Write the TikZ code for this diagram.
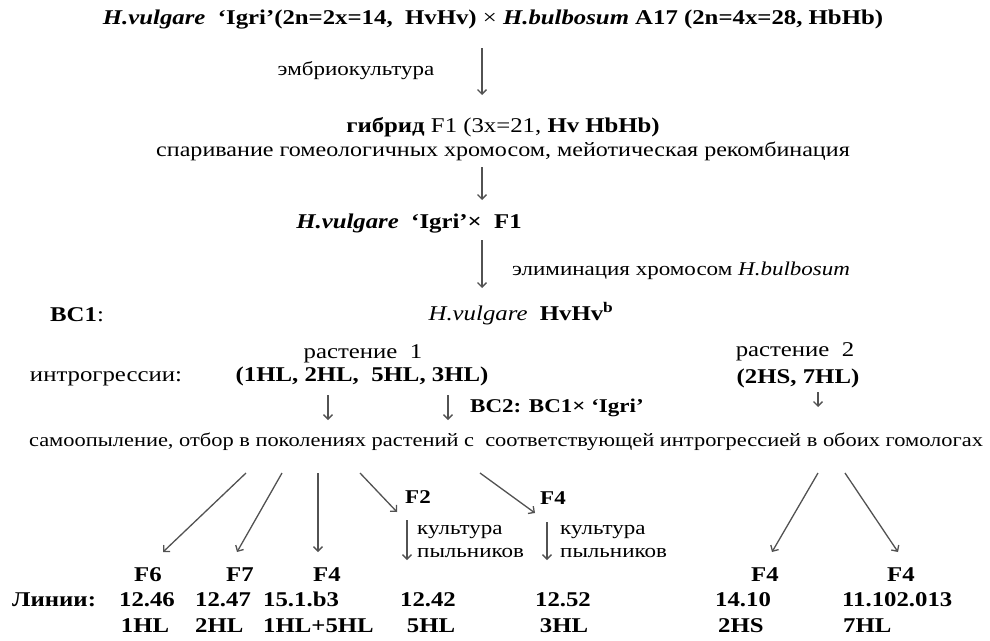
\documentclass[tikz,border=0pt]{standalone}
\usepackage{fontspec}
\setmainfont[FakeStretch=1.18]{Liberation Serif}
\usetikzlibrary{arrows.meta}
\begin{document}
\begin{tikzpicture}[x=1pt,y=-1pt,
  txt/.style={inner sep=0pt,font=\fontsize{21}{24}\selectfont},
  sml/.style={inner sep=0pt,font=\fontsize{19.5}{22}\selectfont},
  arr/.style={draw=black!68,line width=1.3pt,-{Straight Barb[length=4.5pt,width=9pt]}},
  every node/.append style={anchor=base}]
\useasboundingbox (0,0) rectangle (990,640);
% rows
\node[txt] (top) at (493,24) {\textbf{\textit{H.vulgare}}\ \ \textbf{‘Igri’(2n=2x=14,\ \ HvHv)} × \textbf{\textit{H.bulbosum}} \textbf{A17 (2n=4x=28, HbHb)}};
\node[sml] (embr) at (356,75) {эмбриокультура};
\node[txt] (f1) at (503,132) {\textbf{гибрид} F1 (3x=21, \textbf{Hv HbHb)}};
\node[txt,font=\fontsize{20.4}{24}\selectfont] (spar) at (503,156) {спаривание гомеологичных хромосом, мейотическая рекомбинация};
\node[txt] (cross) at (409,228) {\textbf{\textit{H.vulgare}}\ \ \textbf{‘Igri’× \ F1}};
\node[sml] (elim) at (512,275) [anchor=base west] {элиминация хромосом \textit{H.bulbosum}};
\node[txt] (bc1) at (50,321) [anchor=base west] {\textbf{BC1}:};
\node[txt] (hvb) at (521,320) {\textit{H.vulgare}\ \ \textbf{HvHv\textsuperscript{b}}};
\node[txt] (r1) at (363,358) {растение\ \ 1};
\node[txt] (r2) at (795,356) {растение\ \ 2};
\node[txt] (intr) at (106,381) {интрогрессии:};
\node[txt] (intrl) at (362,381) {\textbf{(1HL, 2HL,\ \ 5HL, 3HL)}};
\node[txt] (intrr) at (798,383) {\textbf{(2HS, 7HL)}};
\node[sml] (bc2) at (470,412) [anchor=base west] {\textbf{BC2: BC1× ‘Igri’}};
\node[txt,font=\fontsize{19}{22}\selectfont] (self) at (506,446) {самоопыление, отбор в поколениях растений с\ \ соответствующей интрогрессией в обоих гомологах};
\node[sml] (f2s) at (418,503) {\textbf{F2}};
\node[sml] (f4s) at (553,504) {\textbf{F4}};
\node[sml] (k1a) at (417,534) [anchor=base west] {культура};
\node[sml] (k1b) at (417,557) [anchor=base west] {пыльников};
\node[sml] (k2a) at (560,534) [anchor=base west] {культура};
\node[sml] (k2b) at (560,557) [anchor=base west] {пыльников};
% generations
\node[txt] (g1) at (148,581) {\textbf{F6}};
\node[txt] (g2) at (240,581) {\textbf{F7}};
\node[txt] (g3) at (327,581) {\textbf{F4}};
\node[txt] (g6) at (765,581) {\textbf{F4}};
\node[txt] (g7) at (901,581) {\textbf{F4}};
% lines
\node[txt] (lin) at (12,606) [anchor=base west] {\textbf{Линии:}};
\node[txt] (n1) at (147,606) {\textbf{12.46}};
\node[txt] (n2) at (195,606) [anchor=base west] {\textbf{12.47}};
\node[txt] (n3) at (263,606) [anchor=base west] {\textbf{15.1.b3}};
\node[txt] (n4) at (428,606) {\textbf{12.42}};
\node[txt] (n5) at (563,606) {\textbf{12.52}};
\node[txt] (n6) at (715,606) [anchor=base west] {\textbf{14.10}};
\node[txt] (n7) at (842,606) [anchor=base west] {\textbf{11.102.013}};
\node[txt] (c1) at (145,632) {\textbf{1HL}};
\node[txt] (c2) at (195,632) [anchor=base west] {\textbf{2HL}};
\node[txt] (c3) at (263,632) [anchor=base west] {\textbf{1HL+5HL}};
\node[txt] (c4) at (431,632) {\textbf{5HL}};
\node[txt] (c5) at (564,632) {\textbf{3HL}};
\node[txt] (c6) at (718,632) [anchor=base west] {\textbf{2HS}};
\node[txt] (c7) at (843,632) [anchor=base west] {\textbf{7HL}};
% arrow coordinates
\coordinate (a1s) at (482,48);  \coordinate (a1e) at (482,95);
\coordinate (a2s) at (482,167); \coordinate (a2e) at (482,200);
\coordinate (a3s) at (482,240); \coordinate (a3e) at (482,288);
\coordinate (a4s) at (328,395); \coordinate (a4e) at (328,420);
\coordinate (a5s) at (448,395); \coordinate (a5e) at (448,420);
\coordinate (a6s) at (818,392); \coordinate (a6e) at (818,407);
\coordinate (b1s) at (246,473); \coordinate (b1e) at (163,552);
\coordinate (b2s) at (282,473); \coordinate (b2e) at (237,552);
\coordinate (b3s) at (318,473); \coordinate (b3e) at (318,552);
\coordinate (b4s) at (360,473); \coordinate (b4e) at (397,512);
\coordinate (b5s) at (480,473); \coordinate (b5e) at (535,513);
\coordinate (b6s) at (818,473); \coordinate (b6e) at (772,552);
\coordinate (b7s) at (845,473); \coordinate (b7e) at (898,552);
\coordinate (v1s) at (407,520); \coordinate (v1e) at (407,560);
\coordinate (v2s) at (547,522); \coordinate (v2e) at (547,560);
\foreach \p in {a1,a2,a3,a4,a5,a6,b1,b2,b3,b4,b5,b6,b7,v1,v2}
  \draw[arr] (\p s) -- (\p e);
\end{tikzpicture}
\end{document}
